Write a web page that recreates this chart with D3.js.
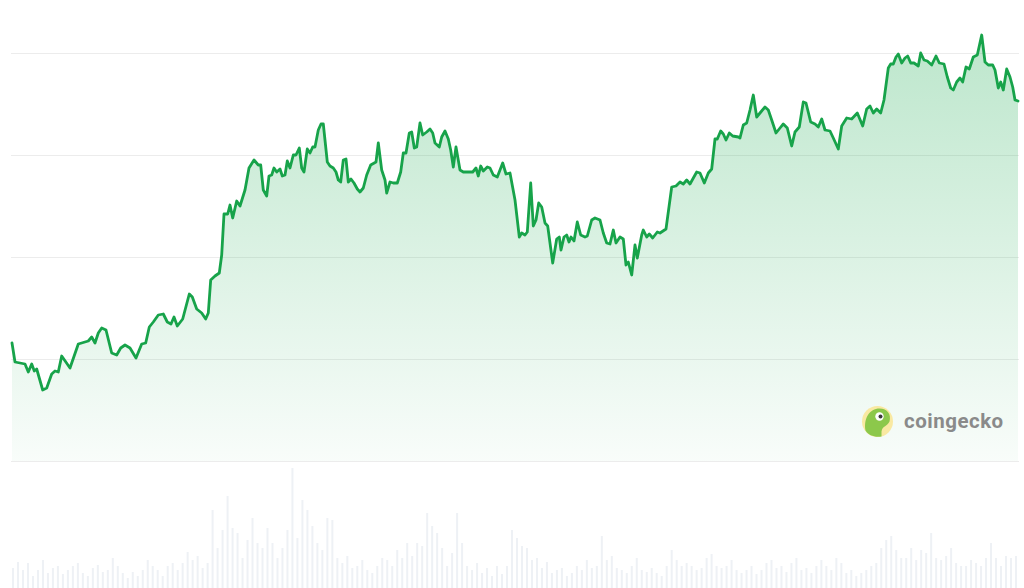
<!DOCTYPE html>
<html><head><meta charset="utf-8">
<script src="https://cdn.jsdelivr.net/npm/d3@7"></script>
<style>html,body{margin:0;padding:0;background:#fff;}svg{display:block}</style>
</head><body>
<svg id="chart" width="1024" height="588"></svg>
<script>
// sample time (index units across the period) and price (chart units)
const sampleTime = [0,3,8,13,16.3,19.7,22.3,24.7,30.7,34.7,39.7,43,46.3,49.7,58,66.3,76.3,79.7,83,86.3,89.7,94,99.7,104.7,108.7,113,118,124,129.7,133.7,137.3,141.3,146.3,151.3,155.3,159,162,165.3,170.7,177.3,180.3,184.7,189.7,193.7,196.3,198.7,203,207.3,209.7,212,215.7,218,220.7,224.7,228,233,237,242,246.3,248.7,251.3,254.7,257,259.7,262,264.7,268,270.3,273,275.3,278,281.3,284,287.3,289.7,292,295.3,298,300.7,303,306.3,309,311.3,315.3,318,321.3,324,326.3,328.7,331.3,334,336.3,339,342,345.3,348,351.3,354.7,358.7,364,366.3,369.7,373,374.7,378,381.3,385.3,388.7,391.3,394,397.3,399.7,402.3,404.7,408,410.7,414.7,418,420.7,423,427.3,429.7,433,436.3,438.7,441.3,444,448,451.3,460.7,464,466.3,468.7,471.3,475.3,478,481.3,485.3,490.7,494,498,503,507.3,509.7,513,515.3,518.7,521.3,524,526.7,529.7,533,535.7,540.7,544.7,547.3,549,552,554.7,557,559,562,565.3,568.7,573,575.3,579.7,583,588,591.3,594.7,598,601.3,604,608,611.3,614,616.3,619.7,623,625.3,629.7,631.3,634.7,637.3,640.7,645.3,648,654,659.7,664,668,671.3,674.7,678,684.7,688,692.3,696.3,699.7,703,705.3,708.7,711.3,714,717.3,720.7,726.3,728,731.3,734.7,738,741.3,744.7,748,753,756.3,759.7,764,768,771.3,775.3,779.7,783,787.3,791.3,794,798.7,803,806.3,809.7,813,818,821.3,826.3,829.7,834.7,839.7,845.3,850.7,854.7,858,861.3,864.7,868.7,872,876.3,878.7,881.3,884,886.3,889.7,893,895.7,898.7,902,906.3,908.7,912,915.3,919.7,924,927.3,932,935.3,938.7,941.3,944.7,948,950.7,954,957.3,961.3,965.3,969.7,973,976.3,980.7,983,986.3,988.7,991.3,994.7,998,1000.7,1003,1006];
const price = [118,99,98,97,89,97,90,92,71,73,87,90,89,105,93,117,120,124,118,128,133,131,108,106,113,116,113,103,117,118,134,139,146,147,139,137,144,135,142,167,164,152,148,142,148,181,185,188,206,247,247,256,243,260,255,271,293,301,296,296,271,265,285,286,293,289,292,285,286,300,293,306,306,313,293,289,312,308,314,314,331,337,337,299,295,293,289,281,279,301,302,279,282,278,272,269,273,286,296,299,318,291,281,268,279,278,278,289,308,308,328,329,313,314,338,326,329,332,328,318,314,324,330,322,311,294,314,291,289,289,293,285,295,290,294,293,286,284,298,287,288,261,224,228,226,229,278,235,241,258,254,238,235,198,222,224,211,224,226,219,224,220,239,226,224,225,241,243,241,228,218,217,231,218,224,222,196,199,186,216,203,226,231,224,227,223,229,228,232,274,275,279,277,281,277,289,288,278,288,292,322,322,330,327,321,328,325,324,323,336,338,351,366,344,348,354,351,341,328,333,337,333,315,329,334,359,358,339,337,334,342,331,330,323,312,335,343,342,348,335,352,355,348,352,348,361,393,397,397,404,407,398,403,405,398,398,395,408,401,400,396,405,398,397,384,373,371,379,383,379,394,392,404,406,426,399,396,396,391,373,379,371,392,384,374,361,360];
// trading volume per period
const volume = [20,26,18,25,12,18,28,15,20,22,14,18,22,25,15,12,20,23,16,18,30,22,15,10,16,12,18,28,22,18,12,22,25,18,25,36,28,32,20,25,78,40,58,92,60,55,30,48,70,45,40,60,45,30,40,58,120,50,88,78,62,45,38,70,68,30,25,32,20,22,28,18,15,22,30,28,22,38,30,45,32,45,42,75,62,55,40,22,35,75,45,22,18,25,15,20,12,22,14,22,58,50,42,40,28,30,20,26,15,18,20,12,15,22,18,28,20,22,52,28,32,20,18,15,22,30,18,16,20,15,12,22,38,28,22,25,22,18,20,30,34,22,20,22,28,18,15,18,22,14,18,25,28,20,22,16,25,30,18,20,15,22,28,22,18,30,25,15,18,12,15,18,22,25,40,48,52,38,30,30,40,28,38,35,55,30,28,32,40,25,22,22,28,25,22,30,45,30,22,32,30,32];
const gridValues = [0,102,204,306,408];

const svg = d3.select("#chart");
const x = d3.scaleLinear().domain([0,1006]).range([12,1018]);
const y = d3.scaleLinear().domain([0,408]).range([461,53]);
const xv = d3.scaleLinear().domain([0, volume.length-1]).range([13,1016]);
const yv = d3.scaleLinear().domain([0,121]).range([588,467]);

// volume bars
svg.append("g").selectAll("rect").data(volume).join("rect")
  .attr("x", (d,i)=>xv(i)-1).attr("width",2)
  .attr("y", d=>yv(d)).attr("height", d=>588-yv(d))
  .attr("fill","#eef1f5");

// gridlines
const grid = svg.append("g").attr("transform","translate(11,0)")
  .call(d3.axisRight(y).tickValues(gridValues).tickSize(1008).tickFormat(""));
grid.select(".domain").remove();
grid.selectAll("line").attr("stroke","#ececec").attr("stroke-width",1);

// gradient
const defs = svg.append("defs");
const grad = defs.append("linearGradient").attr("id","fillGrad")
  .attr("gradientUnits","userSpaceOnUse").attr("x1",0).attr("y1",y(426)).attr("x2",0).attr("y2",y(0));
grad.append("stop").attr("offset","0%").attr("stop-color","#22ad55").attr("stop-opacity",0.3);
grad.append("stop").attr("offset","100%").attr("stop-color","#22ad55").attr("stop-opacity",0.03);

const pts = sampleTime.map((t,i)=>[t, price[i]]);
svg.append("path").datum(pts)
  .attr("d", d3.area().x(d=>x(d[0])).y0(y(0)).y1(d=>y(d[1])))
  .attr("fill","url(#fillGrad)");
svg.append("path").datum(pts)
  .attr("d", d3.line().x(d=>x(d[0])).y(d=>y(d[1])))
  .attr("fill","none").attr("stroke","#17a34a").attr("stroke-width",2.8)
  .attr("stroke-linejoin","round").attr("stroke-linecap","round");

// watermark logo
const logo = svg.append("g").attr("transform","translate(877.5,421.5)");
logo.append("circle").attr("r",15.5).attr("fill","#f9e9a2");
logo.append("path").attr("d","M-12,9 C-14,-3 -8,-13 2,-13 C10,-13 14,-7 12,0 C10,5 5,4 4,10 L4,15 C-3,16 -9,14 -12,9 Z").attr("fill","#8cc84b");
logo.append("circle").attr("cx",2).attr("cy",-5).attr("r",4.2).attr("fill","#fff");
logo.append("circle").attr("cx",3).attr("cy",-5).attr("r",2).attr("fill","#3a3a3a");
svg.append("text").attr("x",904).attr("y",428)
  .attr("font-family","Roboto, 'Open Sans', sans-serif").attr("font-weight",700)
  .attr("font-size",20.5).attr("letter-spacing",0.5).attr("fill","#8a8a8a").text("coingecko");
</script>
</body></html>
